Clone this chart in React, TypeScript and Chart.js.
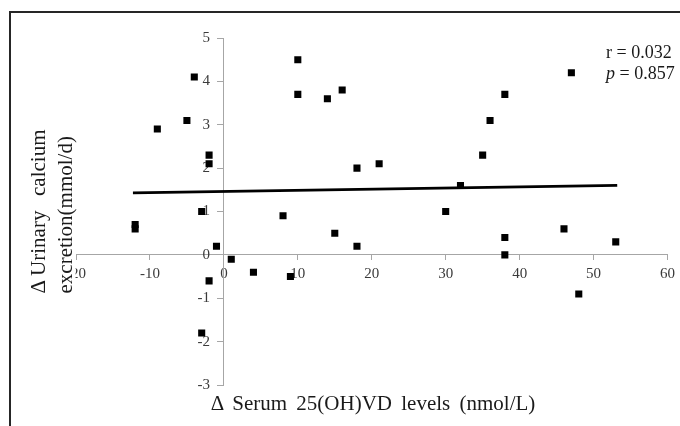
import React, { useEffect, useRef } from "react";
import { Chart, registerables } from "chart.js";

Chart.register(...registerables);

// Scatter data: change in serum 25(OH)VD (x) vs change in urinary calcium (y)
const xValues = [-12, -12, -9, -5, -4, -2, -2, -3, -1, -2, -3, 1, 4, 8, 9, 10, 10, 14, 16, 15, 18, 18, 21, 30, 32, 35, 36, 38, 38, 38, 46, 47, 48, 53];
const yValues = [0.7, 0.6, 2.9, 3.1, 4.1, 2.3, 2.1, 1.0, 0.2, -0.6, -1.8, -0.1, -0.4, 0.9, -0.5, 4.5, 3.7, 3.6, 3.8, 0.5, 2.0, 0.2, 2.1, 1.0, 1.6, 2.3, 3.1, 3.7, 0.4, 0.0, 0.6, 4.2, -0.9, 0.3];

// Linear trend line end points
const trendX = [-12.3, 53.2];
const trendY = [1.43, 1.6];

// Axis ticks
const xTickValues = [-20, -10, 0, 10, 20, 30, 40, 50, 60];
const yTickValues = [-3, -2, -1, 0, 1, 2, 3, 4, 5];

const xTitle = "Δ Serum 25(OH)VD levels (nmol/L)";
const yTitleWords = ["Δ Urinary", "calcium"];
const yTitleLine2 = "excretion(mmol/d)";
const statR = "r = 0.032";
const statP = " = 0.857";

const FONT = '"Liberation Serif", "Times New Roman", serif';
const AXIS_COLOR = "#a6a6a6";
const TICK_COLOR = "#3a3a3a";

const yLabelPlugin = {
  id: "yLabelsAtZero",
  beforeDatasetsDraw(chart: any) {
    const { ctx, scales } = chart;
    const xs = scales.x;
    const ys = scales.y;
    const x0 = xs.getPixelForValue(0);
    ctx.save();
    ctx.font = `15px ${FONT}`;
    ctx.fillStyle = TICK_COLOR;
    ctx.textAlign = "right";
    ctx.textBaseline = "middle";
    yTickValues.forEach((v) => {
      ctx.fillText(String(v), x0 - 14, ys.getPixelForValue(v));
    });
    ctx.restore();
  },
};

export default function App() {
  const canvasRef = useRef<HTMLCanvasElement | null>(null);

  useEffect(() => {
    if (!canvasRef.current) return;
    const points = xValues.map((x, i) => ({ x, y: yValues[i] }));
    const trend = trendX.map((x, i) => ({ x, y: trendY[i] }));
    const chart = new Chart(canvasRef.current, {
      type: "scatter",
      data: {
        datasets: [
          {
            label: "trend",
            data: trend,
            showLine: true,
            borderColor: "#000",
            borderWidth: 2.8,
            pointRadius: 0,
            pointHoverRadius: 0,
            order: 2,
          },
          {
            label: "points",
            data: points,
            pointStyle: "rect",
            pointRadius: 5,
            pointHoverRadius: 5,
            backgroundColor: "#000",
            borderColor: "#000",
            borderWidth: 0,
            order: 1,
          },
        ],
      },
      options: {
        animation: false,
        responsive: false,
        devicePixelRatio: 1,
        layout: { padding: { left: 76, right: 12, top: 38, bottom: 41 } },
        plugins: {
          legend: { display: false },
          tooltip: { enabled: false },
        },
        events: [],
        scales: {
          x: {
            type: "linear",
            position: { y: 0 },
            min: -20,
            max: 60,
            afterBuildTicks: (scale: any) => {
              scale.ticks = xTickValues.map((v) => ({ value: v }));
            },
            ticks: {
              font: { family: FONT, size: 15 },
              color: TICK_COLOR,
              padding: 5,
              maxRotation: 0,
            },
            grid: {
              display: true,
              drawOnChartArea: false,
              drawTicks: true,
              tickLength: 5,
              color: AXIS_COLOR,
            },
            border: { display: true, color: AXIS_COLOR, width: 1 },
          },
          y: {
            type: "linear",
            position: { x: 0 },
            min: -3,
            max: 5,
            afterBuildTicks: (scale: any) => {
              scale.ticks = yTickValues.map((v) => ({ value: v }));
            },
            ticks: { display: false },
            grid: {
              display: true,
              drawOnChartArea: false,
              drawTicks: true,
              tickLength: 6,
              color: AXIS_COLOR,
            },
            border: { display: true, color: AXIS_COLOR, width: 1 },
          },
        },
      },
      plugins: [yLabelPlugin],
    } as any);
    return () => chart.destroy();
  }, []);

  return (
    <div
      style={{
        position: "absolute",
        left: 0,
        top: 0,
        width: 680,
        height: 426,
        background: "#fff",
        overflow: "hidden",
        fontFamily: FONT,
      }}
    >
      <canvas ref={canvasRef} width={680} height={426} style={{ position: "absolute", left: 0, top: 0 }} />
      {/* frame */}
      <div
        style={{
          position: "absolute",
          left: 9,
          top: 11,
          width: 700,
          height: 450,
          borderTop: "2px solid #262626",
          borderLeft: "2px solid #262626",
          pointerEvents: "none",
        }}
      />
      {/* y-axis title */}
      <div
        style={{
          position: "absolute",
          left: 49.5 - 82,
          top: 211 - 25.5,
          width: 164,
          height: 51,
          transform: "rotate(-90deg)",
          transformOrigin: "50% 50%",
          fontSize: 21,
          lineHeight: "27px",
          color: "#1a1a1a",
          background: "#fff",
        }}
      >
        <div style={{ display: "flex", justifyContent: "space-between", whiteSpace: "nowrap" }}>
          <span>{yTitleWords[0]}</span>
          <span>{yTitleWords[1]}</span>
        </div>
        <div style={{ whiteSpace: "nowrap" }}>{yTitleLine2}</div>
      </div>
      {/* x-axis title */}
      <div
        style={{
          position: "absolute",
          left: 173,
          top: 390,
          width: 400,
          textAlign: "center",
          fontSize: 21,
          lineHeight: "26px",
          wordSpacing: 4,
          color: "#1a1a1a",
          whiteSpace: "nowrap",
        }}
      >
        {xTitle}
      </div>
      {/* statistics */}
      <div
        style={{
          position: "absolute",
          left: 606,
          top: 42,
          fontSize: 18,
          lineHeight: "21px",
          color: "#1a1a1a",
          whiteSpace: "nowrap",
        }}
      >
        <div>{statR}</div>
        <div>
          <i>p</i>
          {statP}
        </div>
      </div>
    </div>
  );
}
